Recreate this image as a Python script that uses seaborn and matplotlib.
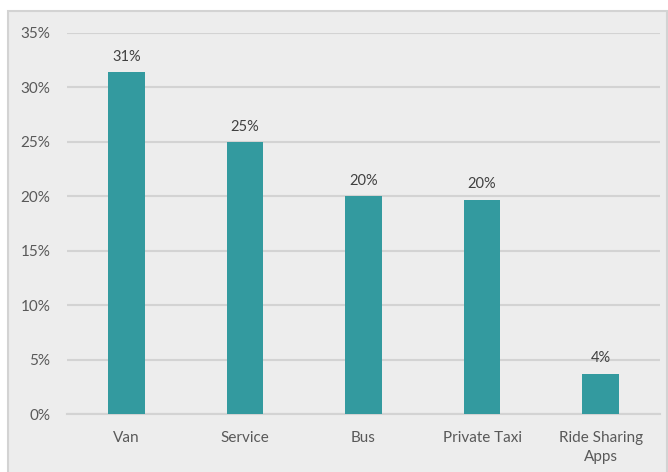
import matplotlib
matplotlib.use("Agg")
import matplotlib.pyplot as plt
from matplotlib.patches import Rectangle
from matplotlib.ticker import FuncFormatter
import seaborn as sns
import pandas as pd

# Share of respondents by mode of transport
modes = ["Van", "Service", "Bus", "Private Taxi", "Ride Sharing\nApps"]
shares = [31.4, 25.0, 20.0, 19.7, 3.7]
y_ticks = [0, 5, 10, 15, 20, 25, 30, 35]

BG = "#ededed"
BAR = "#339a9f"
GRID = "#d3d3d3"
TEXT = "#595959"

sns.set_theme(style="white")
plt.rcParams["font.family"] = ["Lato", "DejaVu Sans"]

fig = plt.figure(figsize=(6.68, 4.72), dpi=100)
fig.patch.set_facecolor("white")
# chart frame
fig.patches.append(Rectangle((8 / 668, -0.1), 1.0 - 9 / 668, 1.1 - 11 / 472,
                             transform=fig.transFigure, facecolor=BG,
                             edgecolor=GRID, linewidth=1.5, zorder=-10))

ax = fig.add_axes([67 / 668, 1 - 414 / 472, 593 / 668, 381 / 472])
ax.set_facecolor(BG)
ax.patch.set_alpha(0)

df = pd.DataFrame({"mode": modes, "share": shares})
sns.barplot(data=df, x="mode", y="share", color=BAR, saturation=1,
            width=0.31, linewidth=0, ax=ax, zorder=3)

ax.set_ylim(0, 35)
ax.set_yticks(y_ticks)
ax.yaxis.set_major_formatter(FuncFormatter(lambda v, _: f"{v:.0f}%"))
ax.set_xlabel("")
ax.set_ylabel("")
ax.grid(axis="y", color=GRID, linewidth=1.5, zorder=0)
ax.grid(axis="x", visible=False)
for side in ["top", "right", "left"]:
    ax.spines[side].set_visible(False)
ax.spines["bottom"].set_color(GRID)
ax.spines["bottom"].set_linewidth(1.5)
ax.tick_params(axis="y", length=0, pad=12, labelsize=11, labelcolor=TEXT)
ax.tick_params(axis="x", length=0, pad=12, labelsize=11, labelcolor=TEXT)
for lbl in ax.get_xticklabels():
    lbl.set_linespacing(1.45)

ax.bar_label(ax.containers[0], labels=[f"{v:.0f}%" for v in shares],
             padding=6, fontsize=10.5, color="#404040")

fig.savefig("out.png", dpi=100, facecolor=fig.get_facecolor())
